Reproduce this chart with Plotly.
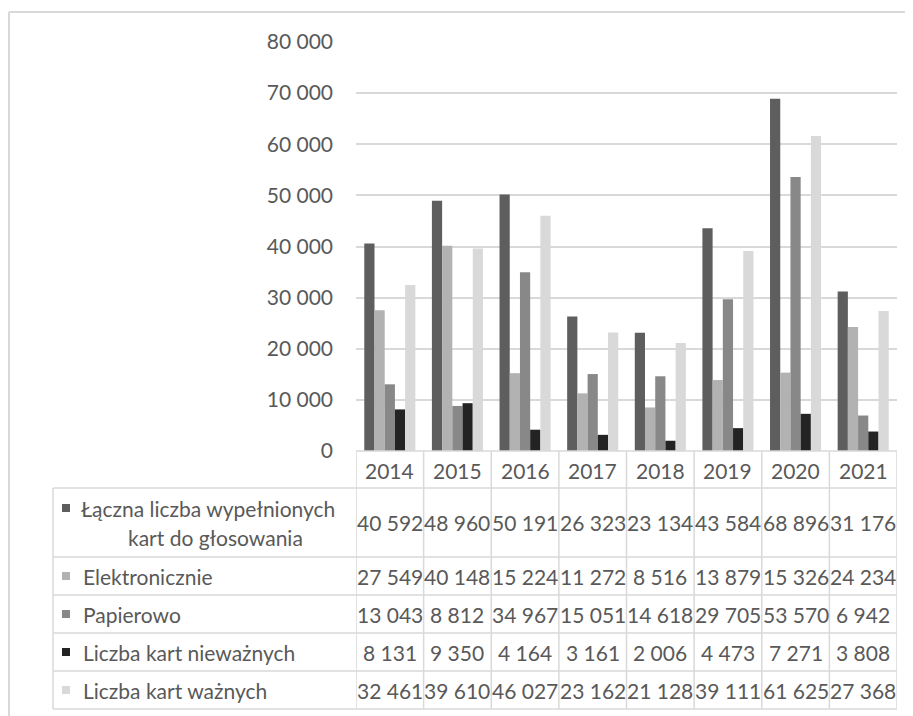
import plotly.graph_objects as go

years = ["2014", "2015", "2016", "2017", "2018", "2019", "2020", "2021"]
series_names = [
    "Łączna liczba wypełnionych kart do głosowania",
    "Elektronicznie",
    "Papierowo",
    "Liczba kart nieważnych",
    "Liczba kart ważnych",
]
total = [40592, 48960, 50191, 26323, 23134, 43584, 68896, 31176]
electronic = [27549, 40148, 15224, 11272, 8516, 13879, 15326, 24234]
paper = [13043, 8812, 34967, 15051, 14618, 29705, 53570, 6942]
invalid = [8131, 9350, 4164, 3161, 2006, 4473, 7271, 3808]
valid = [32461, 39610, 46027, 23162, 21128, 39111, 61625, 27368]
y_ticks = [0, 10000, 20000, 30000, 40000, 50000, 60000, 70000, 80000]

series_values = [total, electronic, paper, invalid, valid]
colors = ["#5e5e5e", "#b2b2b2", "#888888", "#232323", "#d9d9d9"]

FONT = "Lato"
TXT = "#595959"
GRID = "#d9d9d9"
FS = 21

OFF = 8  # page body margin
W_FIG, H_FIG = 913 - OFF, 716 - OFF
L, R, T, B = 356 - OFF, 897 - OFF, 42 - OFF, 451 - OFF
PW, PH = R - L, B - T


def px(x):
    return (x - OFF - L) / PW


def py(y):
    return (B - (y - OFF)) / PH


def fmt(v):
    return f"{v:,}".replace(",", " ")


fig = go.Figure()
for name, vals, col in zip(series_names, series_values, colors):
    fig.add_trace(go.Bar(x=years, y=vals, name=name, marker=dict(color=col, line=dict(width=0))))

shapes = []
annotations = []

# outer frame
shapes.append(dict(type="line", xref="paper", yref="paper", x0=px(9), x1=px(920), y0=py(12), y1=py(12),
                   line=dict(color=GRID, width=2)))
shapes.append(dict(type="line", xref="paper", yref="paper", x0=px(9), x1=px(9), y0=py(12), y1=py(730),
                   line=dict(color=GRID, width=2)))

# table geometry (reference pixel rows)
hdr_top, hdr_bot = 451, 488
row_edges = [488, 557, 595, 633, 671, 709]
tbl_left = 53
line_style = dict(color=GRID, width=1.5)

shapes.append(dict(type="line", xref="x", yref="paper", x0=-0.5, x1=7.5, y0=py(hdr_top), y1=py(hdr_top), line=line_style))
for ye in row_edges:
    shapes.append(dict(type="line", xref="paper", yref="paper", x0=px(tbl_left), x1=1, y0=py(ye), y1=py(ye), line=line_style))
for i in range(len(years) + 1):
    shapes.append(dict(type="line", xref="x", yref="paper", x0=i - 0.5, x1=i - 0.5, y0=py(hdr_top), y1=py(row_edges[-1]),
                       line=line_style))
shapes.append(dict(type="line", xref="paper", yref="paper", x0=px(tbl_left), x1=px(tbl_left), y0=py(row_edges[0]),
                   y1=py(row_edges[-1]), line=line_style))

# year headers
for i, yr in enumerate(years):
    annotations.append(dict(x=i, xref="x", y=py((hdr_top + hdr_bot) / 2 + 1), yref="paper", text=yr, showarrow=False,
                            xanchor="center", yanchor="middle", font=dict(family=FONT, size=FS, color=TXT)))

# rows
for r, (name, vals, col) in enumerate(zip(series_names, series_values, colors)):
    top, bot = row_edges[r], row_edges[r + 1]
    cy = (top + bot) / 2
    for i, v in enumerate(vals):
        annotations.append(dict(x=i, xref="x", y=py(cy), yref="paper", text=fmt(v), showarrow=False,
                                xanchor="center", yanchor="middle", font=dict(family=FONT, size=FS, color=TXT)))
    if r == 0:
        l1_y, l2_y = top + 20, top + 49
        words = name.split(" ")
        line1 = " ".join(words[:3])
        line2 = " ".join(words[3:])
        sq_y = l1_y
        annotations.append(dict(x=px(79), xref="paper", y=py(l1_y), yref="paper", text=line1, showarrow=False,
                                xanchor="left", yanchor="middle", font=dict(family=FONT, size=FS, color=TXT)))
        annotations.append(dict(x=px(215), xref="paper", y=py(l2_y), yref="paper", text=line2, showarrow=False,
                                xanchor="center", yanchor="middle", font=dict(family=FONT, size=FS, color=TXT)))
    else:
        sq_y = cy
        annotations.append(dict(x=px(81), xref="paper", y=py(cy), yref="paper", text=name, showarrow=False,
                                xanchor="left", yanchor="middle", font=dict(family=FONT, size=FS, color=TXT)))
    shapes.append(dict(type="rect", xref="paper", yref="paper", x0=px(62), x1=px(70), y0=py(sq_y - 4), y1=py(sq_y + 4),
                       fillcolor=col, line=dict(width=0)))

fig.update_layout(
    width=W_FIG, height=H_FIG,
    margin=dict(l=L, r=W_FIG - R, t=T, b=H_FIG - B, pad=0),
    paper_bgcolor="white", plot_bgcolor="white",
    barmode="group", bargap=0.245, bargroupgap=0,
    showlegend=False,
    separators=", ",
    font=dict(family=FONT, size=FS, color=TXT),
    shapes=shapes,
    annotations=annotations,
)
fig.update_xaxes(type="category", range=[-0.5, 7.5], showticklabels=False, showgrid=False, zeroline=False,
                 showline=False, ticks="")
fig.update_yaxes(range=[0, 80000], tickvals=y_ticks, tickformat=",d", showgrid=True, gridcolor=GRID, gridwidth=2,
                 zeroline=False, showline=False, ticks="", ticklabelstandoff=22,
                 tickfont=dict(family=FONT, size=FS, color=TXT))

fig.write_html("out.html")
